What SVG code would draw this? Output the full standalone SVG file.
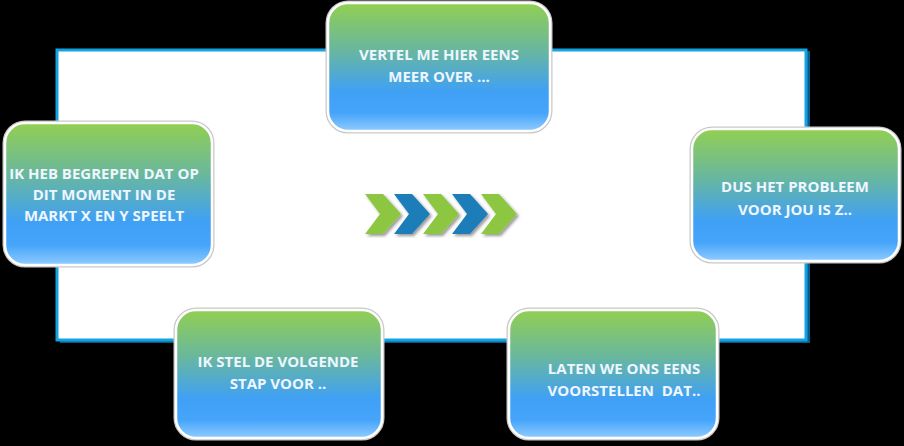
<svg xmlns="http://www.w3.org/2000/svg" width="904" height="446" viewBox="0 0 904 446">
<defs>
<linearGradient id="g" x1="0" y1="0" x2="0" y2="1">
<stop offset="0" stop-color="#92cf52"/>
<stop offset="0.35" stop-color="#6bb89a"/>
<stop offset="0.7" stop-color="#3fa0f6"/>
<stop offset="0.86" stop-color="#46a5fa"/>
<stop offset="1" stop-color="#8fcbff"/>
</linearGradient>
<filter id="sh" x="-10%" y="-10%" width="120%" height="120%">
<feGaussianBlur in="SourceAlpha" stdDeviation="1.5"/>
<feOffset dx="1.5" dy="1.5" result="b"/>
<feFlood flood-color="#000" flood-opacity="0.4"/>
<feComposite in2="b" operator="in"/>
<feMerge><feMergeNode/><feMergeNode in="SourceGraphic"/></feMerge>
</filter>
</defs>
<style>
.box{fill:url(#g);stroke:#ffffff;stroke-width:2.5}
.halo{fill:none;stroke:#c8c8c8;stroke-width:5}
.t{font-family:"Open Sans","Liberation Sans",sans-serif;font-weight:bold;font-size:15px;fill:#eef6ff;text-anchor:middle}
.cg{fill:#8dc641}
.cb{fill:#1d7db8}
</style>
<rect x="0" y="0" width="904" height="446" fill="#000"/>
<g id="frame">
<rect x="60" y="51" width="750" height="292" fill="#0b5a8a"/>
<rect x="57" y="50" width="749" height="290" fill="#ffffff" stroke="#12a3e3" stroke-width="3"/>
</g>
<g id="chevrons" filter="url(#sh)">
<polygon class="cg" points="365,194 383,194 401,214 383,234 365,234 380,214"/>
<polygon class="cb" points="394,194 412,194 430,214 412,234 394,234 409,214"/>
<polygon class="cg" points="423,194 441,194 459,214 441,234 423,234 438,214"/>
<polygon class="cb" points="452,194 470,194 488,214 470,234 452,234 467,214"/>
<polygon class="cg" points="481,194 499,194 517,214 499,234 481,234 496,214"/>
</g>
<g id="connectors"/>
<g id="node-top">
<rect class="halo" x="328" y="3" width="222" height="128" rx="20"/>
<rect class="box" x="328" y="3" width="222" height="128" rx="20"/>
<text class="t" x="439" y="60">VERTEL ME HIER EENS</text>
<text class="t" x="439" y="82">MEER OVER ...</text>
</g>
<g id="node-left">
<rect class="halo" x="5" y="123" width="207" height="142" rx="20"/>
<rect class="box" x="5" y="123" width="207" height="142" rx="20"/>
<text class="t" x="104" y="179">IK HEB BEGREPEN DAT OP</text>
<text class="t" x="104" y="200">DIT MOMENT IN DE</text>
<text class="t" x="104" y="221">MARKT X EN Y SPEELT</text>
</g>
<g id="node-right">
<rect class="halo" x="692" y="129" width="207" height="132" rx="20"/>
<rect class="box" x="692" y="129" width="207" height="132" rx="20"/>
<text class="t" x="795" y="192">DUS HET PROBLEEM</text>
<text class="t" x="795" y="215">VOOR JOU IS Z..</text>
</g>
<g id="node-bottom-left">
<rect class="halo" x="176" y="310" width="206" height="128" rx="20"/>
<rect class="box" x="176" y="310" width="206" height="128" rx="20"/>
<text class="t" x="278" y="367">IK STEL DE VOLGENDE</text>
<text class="t" x="278" y="389">STAP VOOR ..</text>
</g>
<g id="node-bottom-right">
<rect class="halo" x="509" y="310" width="208" height="128" rx="20"/>
<rect class="box" x="509" y="310" width="208" height="128" rx="20"/>
<text class="t" x="624" y="374">LATEN WE ONS EENS</text>
<text class="t" x="624" y="396" xml:space="preserve">VOORSTELLEN  DAT..</text>
</g>
</svg>
